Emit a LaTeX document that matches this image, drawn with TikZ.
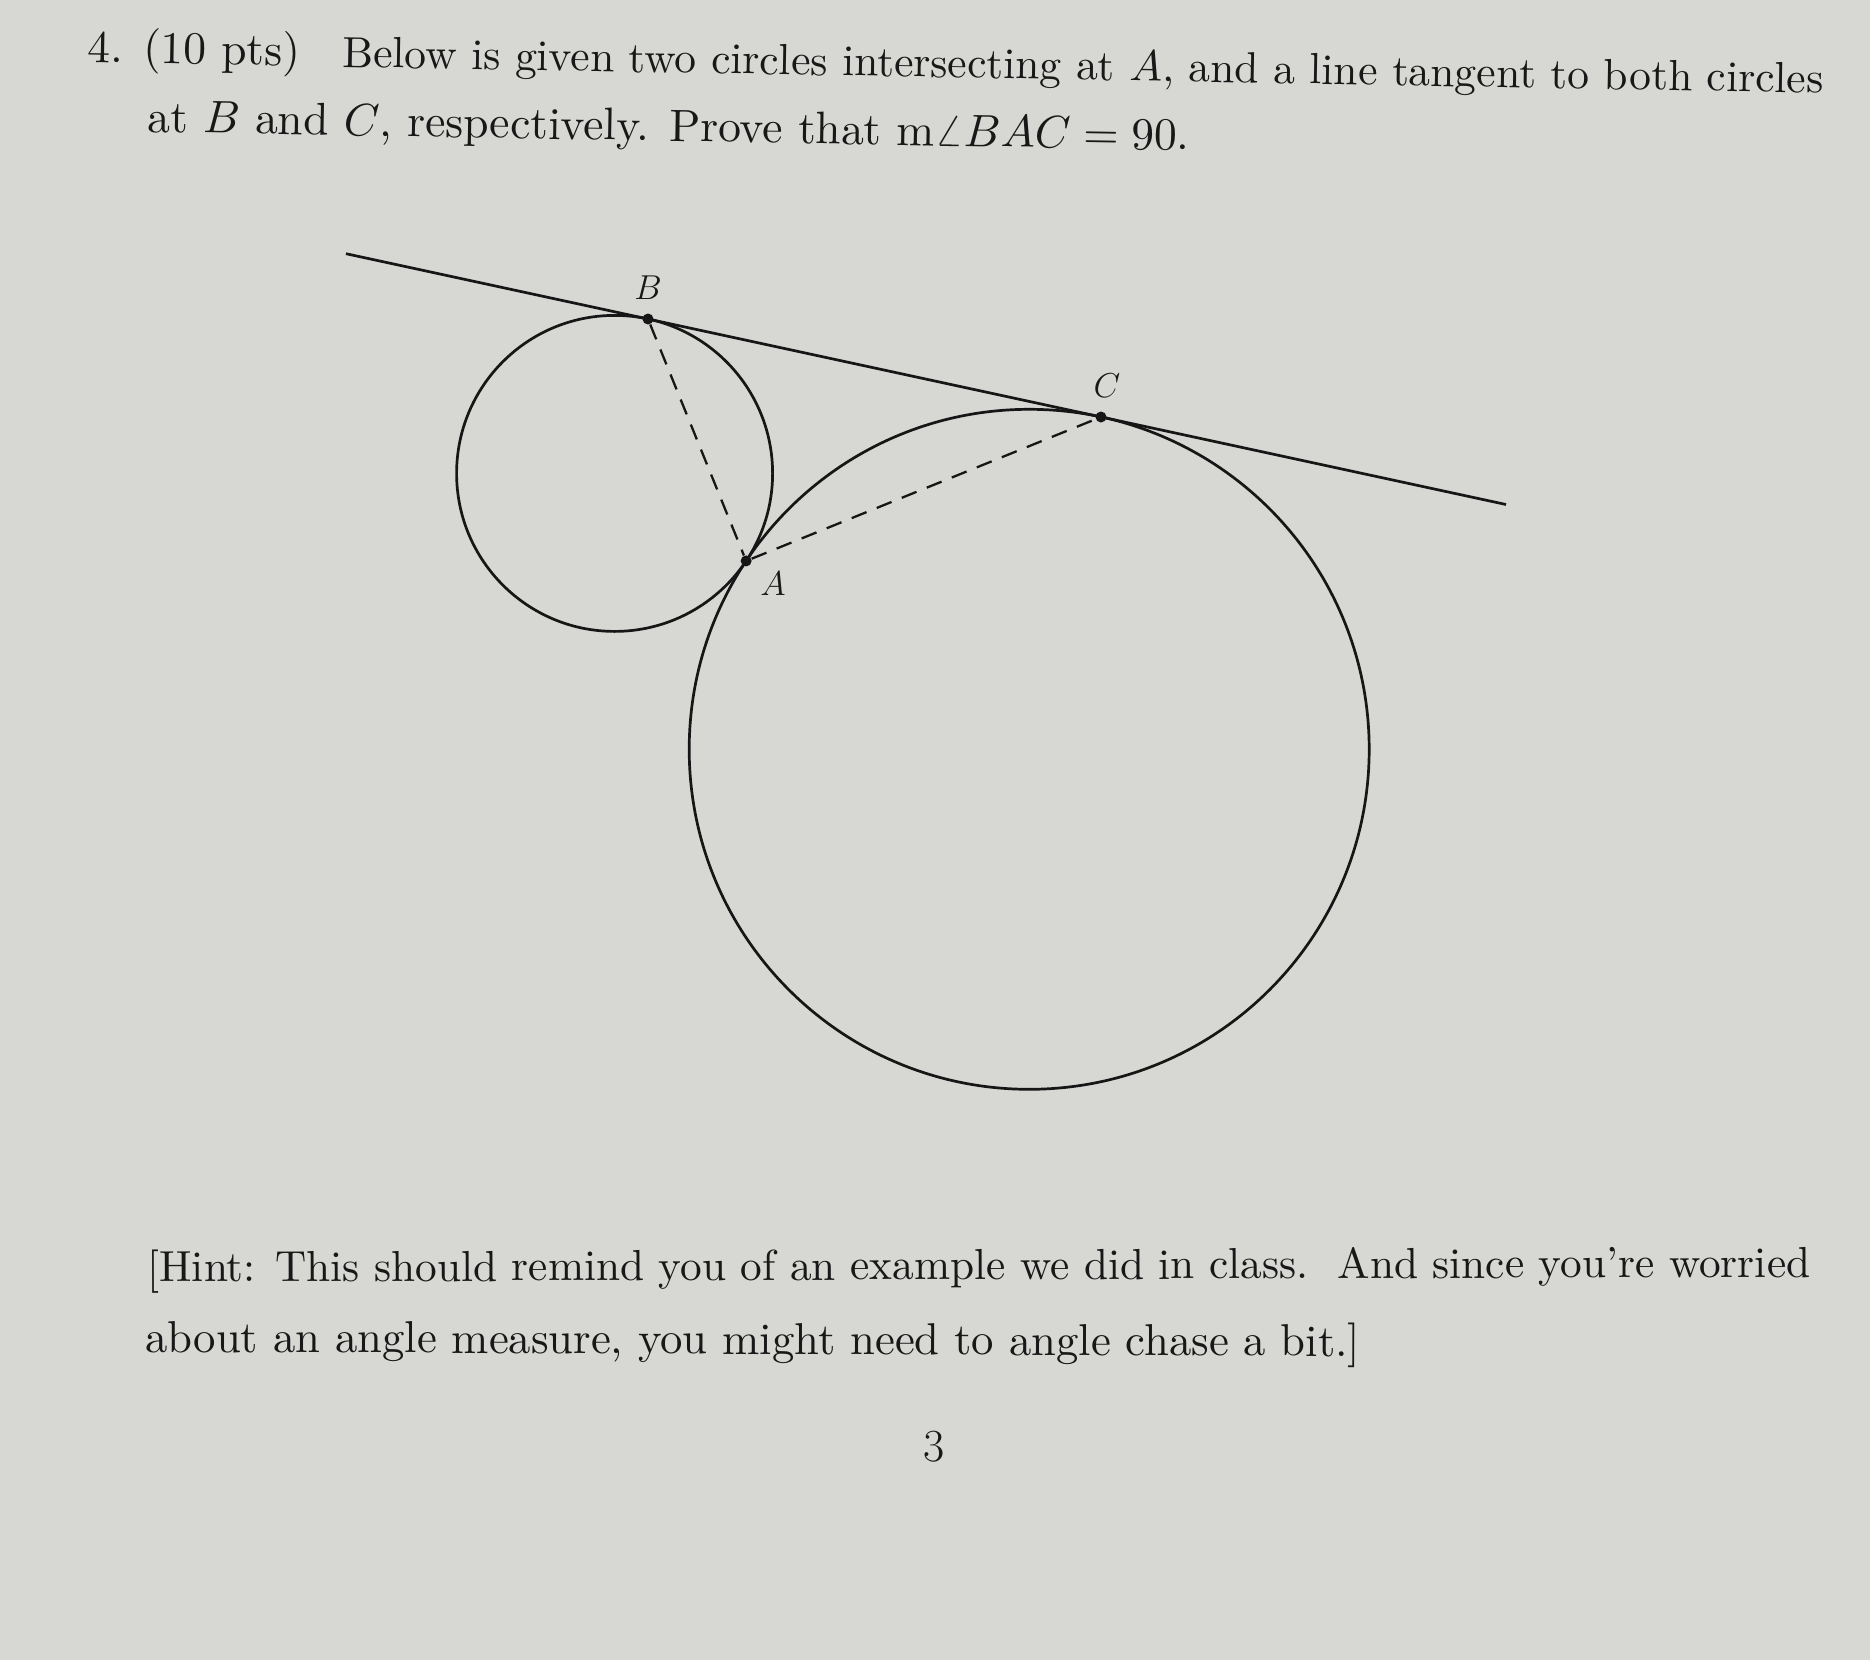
\documentclass[tikz,border=0pt]{standalone}
\usetikzlibrary{calc}
\definecolor{paper}{RGB}{215,215,212}
\definecolor{ink}{RGB}{22,22,22}
\definecolor{textink}{RGB}{24,24,24}
\begin{document}
\begin{tikzpicture}[x=0.5pt,y=-0.5pt,
  txt/.style={anchor=base west, inner sep=0pt, text=textink},
  geom/.style={draw=ink, line width=1.35pt},
  dashline/.style={draw=ink, line width=1.15pt, dash pattern=on 8pt off 5.5pt},
  dot/.style={circle, fill=ink, inner sep=0pt, minimum size=5.5pt},
  lbl/.style={text=textink, inner sep=0pt, font=\fontsize{17}{17}\selectfont}]
\fill[paper] (0,0) rectangle (1870,1660);
\useasboundingbox (0,0) rectangle (1870,1660);

% statement
\node[txt, rotate=-1] (num) at (87,62) {\resizebox{106.5pt}{!}{4. (10 pts)}};
\node[txt, rotate=-1] (l1) at (342,67) {\resizebox{740.5pt}{!}{Below is given two circles intersecting at $A$, and a line tangent to both circles}};
\node[txt, rotate=-1] (l2) at (147,132) {\resizebox{521pt}{!}{at $B$ and $C$, respectively. Prove that m$\angle BAC = 90$.}};

% geometry
\coordinate (P1) at (346,253.7);
\coordinate (P2) at (1506,504.5);
\coordinate (Bp) at (648,319);
\coordinate (Cp) at (1101,417);
\coordinate (O1) at (614.6,473.4);
\coordinate (O2) at (1029.2,749.3);
\coordinate (Ap) at ($(O1)!0.31727!(O2)$);

\draw[geom] (O1) circle[radius=79pt];
\draw[geom] (O2) circle[radius=170pt];
\draw[geom] (P1) -- (P2);

\node[dot] (B) at (Bp) {};
\node[dot] (C) at (Cp) {};
\node[dot] (A) at (Ap) {};
\draw[dashline] (B) -- (A);
\draw[dashline] (A) -- (C);

\node[lbl] (lB) at (648,288) {$B$};
\node[lbl] (lC) at (1107,386) {$C$};
\node[lbl] (lA) at (773,584) {$A$};

% hint
\node[txt, rotate=0.17] (h1) at (147,1282) {\resizebox{831.5pt}{!}{[Hint: This should remind you of an example we did in class.\ \ And since you're worried}};
\node[txt, rotate=-0.2] (h2) at (145,1352) {\resizebox{607.5pt}{!}{about an angle measure, you might need to angle chase a bit.]}};

\node[text=textink, inner sep=0pt, font=\fontsize{23}{23}\selectfont] (pg) at (934,1447) {3};
\end{tikzpicture}
\end{document}
